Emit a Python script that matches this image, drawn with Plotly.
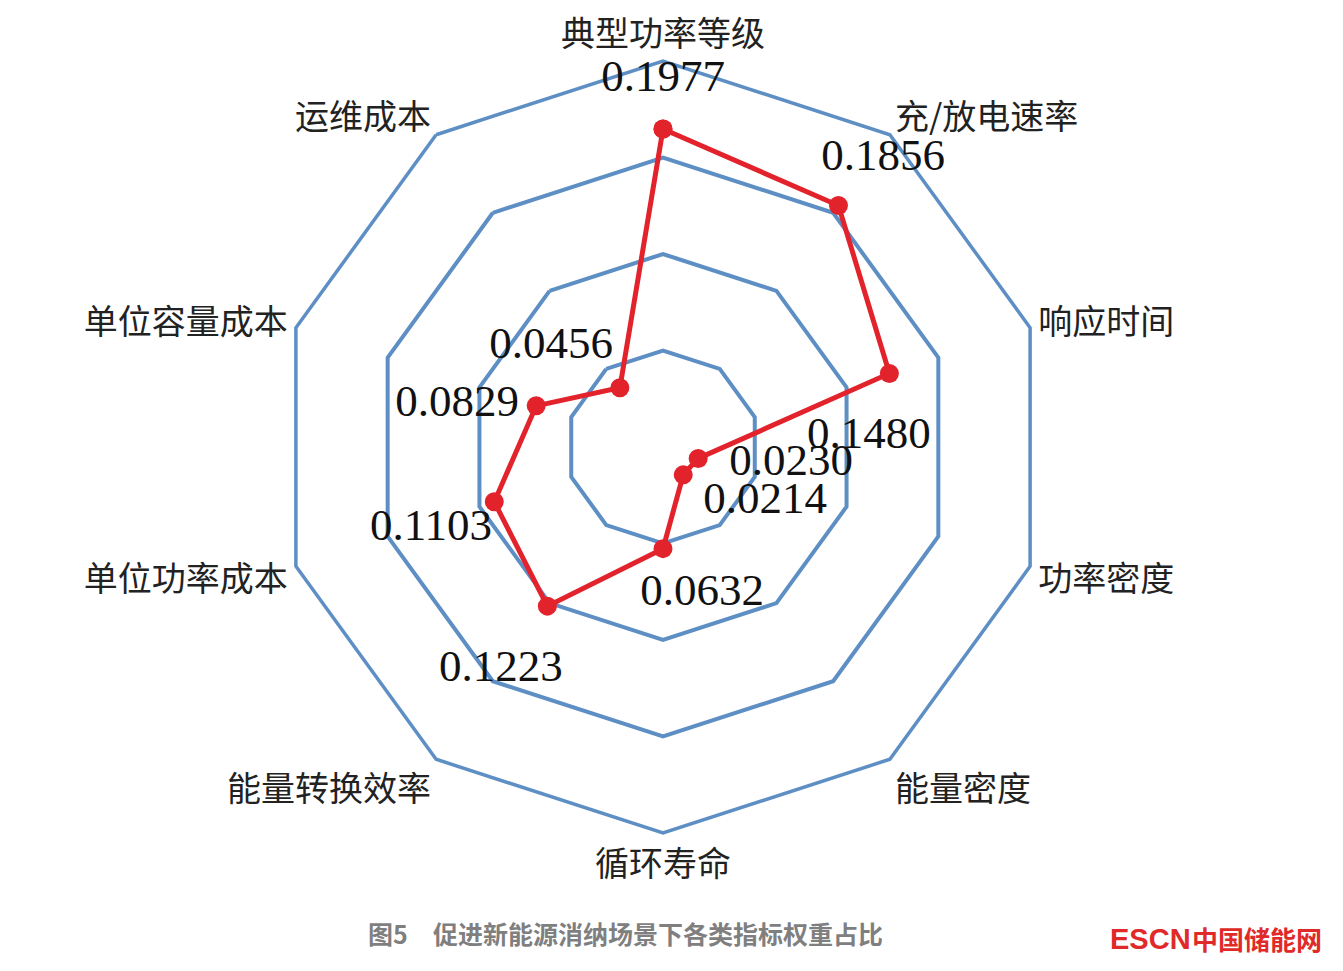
import plotly.graph_objects as go

# ---- data ----
categories = ["典型功率等级", "充/放电速率", "响应时间", "功率密度", "能量密度",
              "循环寿命", "能量转换效率", "单位功率成本", "单位容量成本", "运维成本"]
weights = [0.1977, 0.1856, 0.1480, 0.0230, 0.0214,
           0.0632, 0.1223, 0.1103, 0.0829, 0.0456]
value_labels = ["0.1977", "0.1856", "0.1480", "0.0230", "0.0214",
                "0.0632", "0.1223", "0.1103", "0.0829", "0.0456"]
title_fig = "图5"
title_text = "促进新能源消纳场景下各类指标权重占比"

# ---- label placement (polar coords: radius, degrees clockwise from top) ----
label_r = [0.2282, 0.2254, 0.1282, 0.0803, 0.0721, 0.0946, 0.1714, 0.1530, 0.1307, 0.0934]
label_theta = [0.0, 37.4, 87.2, 97.6, 118.3, 165.1, 216.0, 250.5, 281.5, 311.8]

W, H = 1343, 971
cx, cy, R = 655, 439, 386
dom_x = [(cx - R) / W, (cx + R) / W]
dom_y = [(H - cy - R) / H, (H - cy + R) / H]

BLUE = "#5e8fc4"
RED = "#e3232c"

fig = go.Figure()
fig.add_trace(go.Scatterpolar(
    r=weights + weights[:1],
    theta=categories + categories[:1],
    mode="lines+markers",
    line=dict(color=RED, width=5),
    marker=dict(color=RED, size=19),
    subplot="polar",
    showlegend=False,
    hoverinfo="skip",
))
fig.add_trace(go.Scatterpolar(
    r=label_r,
    theta=label_theta,
    mode="text",
    text=value_labels,
    textposition="middle center",
    textfont=dict(family="Liberation Serif", size=45, color="#111111"),
    subplot="polar2",
    showlegend=False,
    hoverinfo="skip",
))

fig.update_layout(
    width=W, height=H,
    margin=dict(l=0, r=0, t=0, b=0),
    paper_bgcolor="white",
    plot_bgcolor="white",
    polar=dict(
        domain=dict(x=dom_x, y=dom_y),
        bgcolor="rgba(0,0,0,0)",
        gridshape="linear",
        radialaxis=dict(range=[0, 0.24], dtick=0.06, tick0=0, showticklabels=False,
                        ticks="", showline=False, gridcolor=BLUE, gridwidth=3.5),
        angularaxis=dict(direction="clockwise", rotation=90, showgrid=False,
                         showline=True, linecolor=BLUE, linewidth=3.5, ticks="",
                         tickfont=dict(family="Noto Sans CJK SC", size=34, color="#222222")),
    ),
    polar2=dict(
        domain=dict(x=dom_x, y=dom_y),
        bgcolor="rgba(0,0,0,0)",
        radialaxis=dict(range=[0, 0.24], visible=False),
        angularaxis=dict(direction="clockwise", rotation=90, visible=False,
                         thetaunit="degrees"),
    ),
)

fig.add_annotation(text=f"<b>{title_fig}</b>", x=358 / W, y=1 - 925 / H, xref="paper", yref="paper",
                   xanchor="left", yanchor="middle", showarrow=False,
                   font=dict(family="Noto Sans CJK SC", size=25, color="#7f7f7f"))
fig.add_annotation(text=f"<b>{title_text}</b>", x=423 / W, y=1 - 925 / H, xref="paper", yref="paper",
                   xanchor="left", yanchor="middle", showarrow=False,
                   font=dict(family="Noto Sans CJK SC", size=25, color="#7f7f7f"))
fig.add_annotation(text="<b>ESCN</b>", x=1100 / W, y=1 - 931 / H, xref="paper", yref="paper",
                   xanchor="left", yanchor="middle", showarrow=False,
                   font=dict(family="Liberation Sans", size=29, color="#e02a2a"))
fig.add_annotation(text="<b>中国储能网</b>", x=1182 / W, y=1 - 930 / H, xref="paper", yref="paper",
                   xanchor="left", yanchor="middle", showarrow=False,
                   font=dict(family="Noto Sans CJK SC", size=26, color="#e02a2a"))

fig.write_html("out.html")
